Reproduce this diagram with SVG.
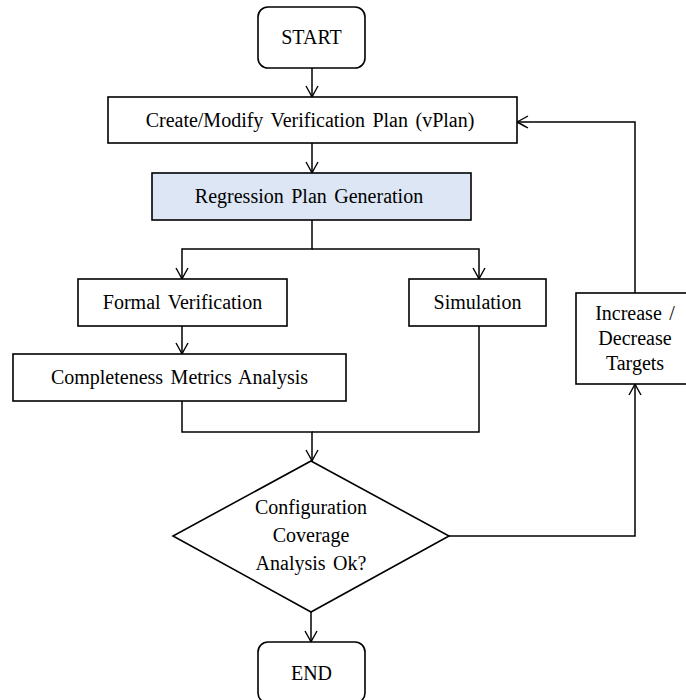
<svg xmlns="http://www.w3.org/2000/svg" width="686" height="700" viewBox="0 0 686 700">
<style>
.box{fill:#fff;stroke:#000;stroke-width:1.6}
.blue{fill:#dce6f4}
.t{font-family:"Liberation Serif","Times New Roman",serif;font-size:20px;fill:#000;text-anchor:middle;word-spacing:2.5px}
.c{fill:none;stroke:#000;stroke-width:1.5}
</style>
<defs>
<marker id="ah" markerUnits="userSpaceOnUse" markerWidth="16" markerHeight="16" viewBox="-13 -8 16 16" refX="0" refY="0" orient="auto">
<path d="M-11,-6 Q-3,-1.5 0,0 Q-3,1.5 -11,6" fill="none" stroke="#000" stroke-width="1.4"/>
</marker>
</defs>
<rect x="0" y="0" width="686" height="700" fill="#fff"/>
<g id="connectors">
<path class="c" d="M312,68 V97" marker-end="url(#ah)"/>
<path class="c" d="M312,143 V173" marker-end="url(#ah)"/>
<path class="c" d="M312,220 V249 H182 V279" marker-end="url(#ah)"/>
<path class="c" d="M312,249 H479 V279" marker-end="url(#ah)"/>
<path class="c" d="M182,326 V354" marker-end="url(#ah)"/>
<path class="c" d="M182,401 V432 H312 V461" marker-end="url(#ah)"/>
<path class="c" d="M479,326 V432 H312"/>
<path class="c" d="M311,612 V642" marker-end="url(#ah)"/>
<path class="c" d="M449,536 H635 V384" marker-end="url(#ah)"/>
<path class="c" d="M635,293 V122 H517" marker-end="url(#ah)"/>
</g>
<g id="start">
<rect class="box" x="258" y="7" width="107" height="61" rx="10"/>
<text class="t" x="311.5" y="44">START</text>
</g>
<g id="create">
<rect class="box" x="108" y="97" width="409" height="46"/>
<text class="t" x="310" y="127">Create/Modify Verification Plan (vPlan)</text>
</g>
<g id="regression">
<rect class="box blue" x="152" y="173" width="319" height="47"/>
<text class="t" x="309" y="203">Regression Plan Generation</text>
</g>
<g id="formal">
<rect class="box" x="78" y="279" width="209" height="47"/>
<text class="t" x="182.5" y="309">Formal Verification</text>
</g>
<g id="simulation">
<rect class="box" x="409" y="279" width="137" height="47"/>
<text class="t" x="477.5" y="309">Simulation</text>
</g>
<g id="completeness">
<rect class="box" x="13" y="354" width="333" height="47"/>
<text class="t" x="179.5" y="384">Completeness Metrics Analysis</text>
</g>
<g id="decision">
<polygon class="box" points="311,461 449,536 311,612 173,536"/>
<text class="t" x="311" y="514">Configuration</text>
<text class="t" x="311" y="542">Coverage</text>
<text class="t" x="311" y="570">Analysis Ok?</text>
</g>
<g id="adjust">
<rect class="box" x="576" y="293" width="118" height="91"/>
<text class="t" x="635" y="320">Increase /</text>
<text class="t" x="635" y="345">Decrease</text>
<text class="t" x="635" y="370">Targets</text>
</g>
<g id="end">
<rect class="box" x="258" y="642" width="107" height="61" rx="10"/>
<text class="t" x="311.5" y="680">END</text>
</g>
</svg>
